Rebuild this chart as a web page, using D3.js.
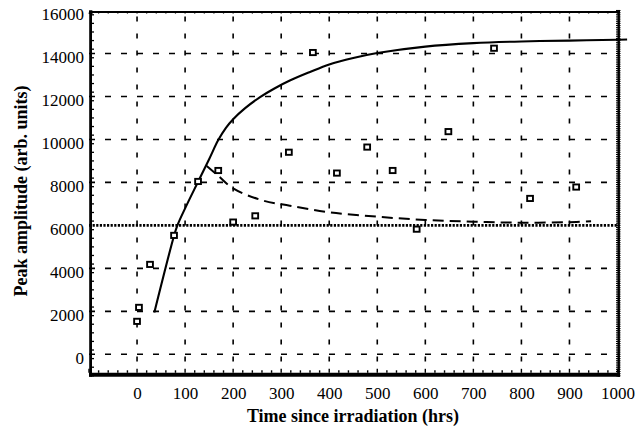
<!DOCTYPE html>
<html>
<head>
<meta charset="utf-8">
<script src="https://cdn.jsdelivr.net/npm/d3@7"></script>
<style>
  html, body { margin: 0; padding: 0; background: #fff; }
  svg { display: block; }
  text { font-family: "Liberation Serif", "Times New Roman", serif; fill: #000; }
</style>
</head>
<body>
<svg id="chart" width="637" height="432"></svg>
<script>
// Measured peak amplitudes
const timeHrs   = [0, 4, 27, 77, 127, 169, 200, 246, 316, 366, 416, 479, 532, 582, 648, 743, 818, 914];
const amplitude = [1520, 2170, 4170, 5520, 8030, 8540, 6140, 6430, 9390, 14030, 8420, 9630, 8540, 5810, 10350, 14230, 7240, 7770];

// Rising model curve (solid)
const riseT = [36, 77, 84, 100, 127, 150, 169, 185, 200, 225, 256, 285, 318, 360, 400, 450, 500, 600, 700, 800, 900, 1000, 1020];
const riseV = [1950, 5520, 6000, 6790, 8030, 9080, 9970, 10540, 10940, 11455, 11970, 12360, 12740, 13140, 13490, 13790, 14020, 14320, 14480, 14560, 14600, 14640, 14650];

// Decaying model curve (dashed)
const decayT = [145, 169, 200, 260, 318, 400, 500, 600, 700, 800, 900, 945];
const decayV = [8760, 8310, 7720, 7170, 6915, 6610, 6405, 6250, 6172, 6125, 6150, 6190];

// Reference level (dotted)
const baseline = 6000;

// Axis ticks
const xTicks = [0, 100, 200, 300, 400, 500, 600, 700, 800, 900, 1000];
const yTicks = [0, 2000, 4000, 6000, 8000, 10000, 12000, 14000, 16000];
const xGrid = [0, 100, 200, 300, 400, 500, 600, 700, 800, 900];
const yGrid = [0, 2000, 4000, 8000, 10000, 12000, 14000];

const svg = d3.select("#chart");
svg.append("rect").attr("width", 637).attr("height", 432).attr("fill", "#fff");

const x = d3.scaleLinear().domain([-100, 1000]).range([89, 617.5]);
const y = d3.scaleLinear().domain([-1000, 16000]).range([375.8, 10.5]);

const xL = x(-100), xR = x(1000), yT = y(16000), yB = y(-1000);

// Grid
const grid = svg.append("g");
grid.selectAll("line.vg").data(xGrid).join("line")
  .attr("x1", d => x(d)).attr("x2", d => x(d))
  .attr("y1", yT + 6).attr("y2", yB)
  .attr("stroke", "#000").attr("stroke-width", 1.6)
  .attr("stroke-dasharray", "5,12");
grid.selectAll("line.hg").data(yGrid).join("line")
  .attr("x1", xL).attr("x2", xR)
  .attr("y1", d => y(d)).attr("y2", d => y(d))
  .attr("stroke", "#000").attr("stroke-width", 1.6)
  .attr("stroke-dasharray", "6,10");

// Dotted reference level
svg.append("line")
  .attr("x1", xL).attr("x2", xR)
  .attr("y1", y(baseline)).attr("y2", y(baseline))
  .attr("stroke", "#000").attr("stroke-width", 2.6)
  .attr("stroke-dasharray", "2.2,1.4");

// Minor ticks
const minorX = d3.range(-100, 1001, 20);
const minorY = d3.range(-1000, 16001, 400);
const minorR = d3.range(-1000, 16001, 100);
const ticks = svg.append("g").attr("stroke", "#000");
ticks.selectAll("line.bx").data(minorX).join("line")
  .attr("x1", d => x(d)).attr("x2", d => x(d))
  .attr("y1", yB - 3).attr("y2", d => (d % 100 === 0 ? yB - 7 : yB - 5.5))
  .attr("stroke-width", 1.4);
ticks.selectAll("line.tx").data(minorX).join("line")
  .attr("x1", d => x(d)).attr("x2", d => x(d))
  .attr("y1", yT + 2).attr("y2", yT + 3.5)
  .attr("stroke-width", 1.2).attr("stroke", "#777");
ticks.selectAll("line.ly").data(minorY).join("line")
  .attr("x1", xL + 2).attr("x2", xL + 5)
  .attr("y1", d => y(d)).attr("y2", d => y(d))
  .attr("stroke-width", 1.3);
ticks.selectAll("line.ry").data(minorR).join("line")
  .attr("x1", xR - 1.5).attr("x2", xR + 3)
  .attr("y1", d => y(d)).attr("y2", d => y(d))
  .attr("stroke-width", 1.1);

// Frame
const frame = svg.append("g").attr("stroke", "#000").attr("fill", "none");
frame.append("line").attr("x1", xL).attr("x2", xR + 2.5).attr("y1", yT + 1.5).attr("y2", yT + 1.5).attr("stroke-width", 2.2);
frame.append("line").attr("x1", xR + 1.2).attr("x2", xR + 1.2).attr("y1", yT + 0.5).attr("y2", yB + 1).attr("stroke-width", 2.4);
frame.append("line").attr("x1", xL + 1.6).attr("x2", xL + 1.6).attr("y1", yT).attr("y2", yB + 1).attr("stroke-width", 2.8);
frame.append("line").attr("x1", xL).attr("x2", xR + 2.5).attr("y1", yB - 1).attr("y2", yB - 1).attr("stroke-width", 4);
svg.append("rect").attr("x", xL).attr("y", yT).attr("width", 3.5).attr("height", 3.5).attr("fill", "#000");

// Model curves
const line = d3.line().x(d => x(d[0])).y(d => y(d[1])).curve(d3.curveCatmullRom.alpha(0.5));
svg.append("path")
  .datum(d3.zip(riseT, riseV))
  .attr("d", line)
  .attr("fill", "none").attr("stroke", "#000").attr("stroke-width", 2.1);
svg.append("path")
  .datum(d3.zip(decayT, decayV))
  .attr("d", line)
  .attr("fill", "none").attr("stroke", "#000").attr("stroke-width", 2)
  .attr("stroke-dasharray", "11,6");

// Data markers: open squares
const sq = 5.8;
svg.append("g").selectAll("rect").data(d3.zip(timeHrs, amplitude)).join("rect")
  .attr("x", d => x(d[0]) - sq / 2)
  .attr("y", d => y(d[1]) - sq / 2)
  .attr("width", sq).attr("height", sq - 0.6)
  .attr("fill", "#fff").attr("stroke", "#000").attr("stroke-width", 1.9);

// Tick labels
const gY = svg.append("g").attr("transform", "translate(84,0)")
  .call(d3.axisLeft(y).tickValues(yTicks).tickSize(0).tickPadding(0).tickFormat(d3.format("d")));
gY.select(".domain").remove();
gY.selectAll("text").attr("font-size", 17).attr("dy", "0.54em")
  .attr("font-family", "'Liberation Serif', serif");

const gX = svg.append("g").attr("transform", "translate(0,399)")
  .call(d3.axisBottom(x).tickValues(xTicks).tickSize(0).tickPadding(0).tickFormat(d3.format("d")));
gX.select(".domain").remove();
gX.selectAll("text").attr("font-size", 17).attr("dy", 0).attr("y", 0)
  .attr("font-family", "'Liberation Serif', serif");

// Axis titles
svg.append("text")
  .attr("x", 353).attr("y", 422)
  .attr("text-anchor", "middle")
  .attr("font-size", 18).attr("font-weight", "bold")
  .text("Time since irradiation (hrs)");
svg.append("text")
  .attr("transform", "translate(27,191) rotate(-90)")
  .attr("text-anchor", "middle")
  .attr("font-size", 18).attr("font-weight", "bold")
  .text("Peak amplitude (arb. units)");
</script>
</body>
</html>
